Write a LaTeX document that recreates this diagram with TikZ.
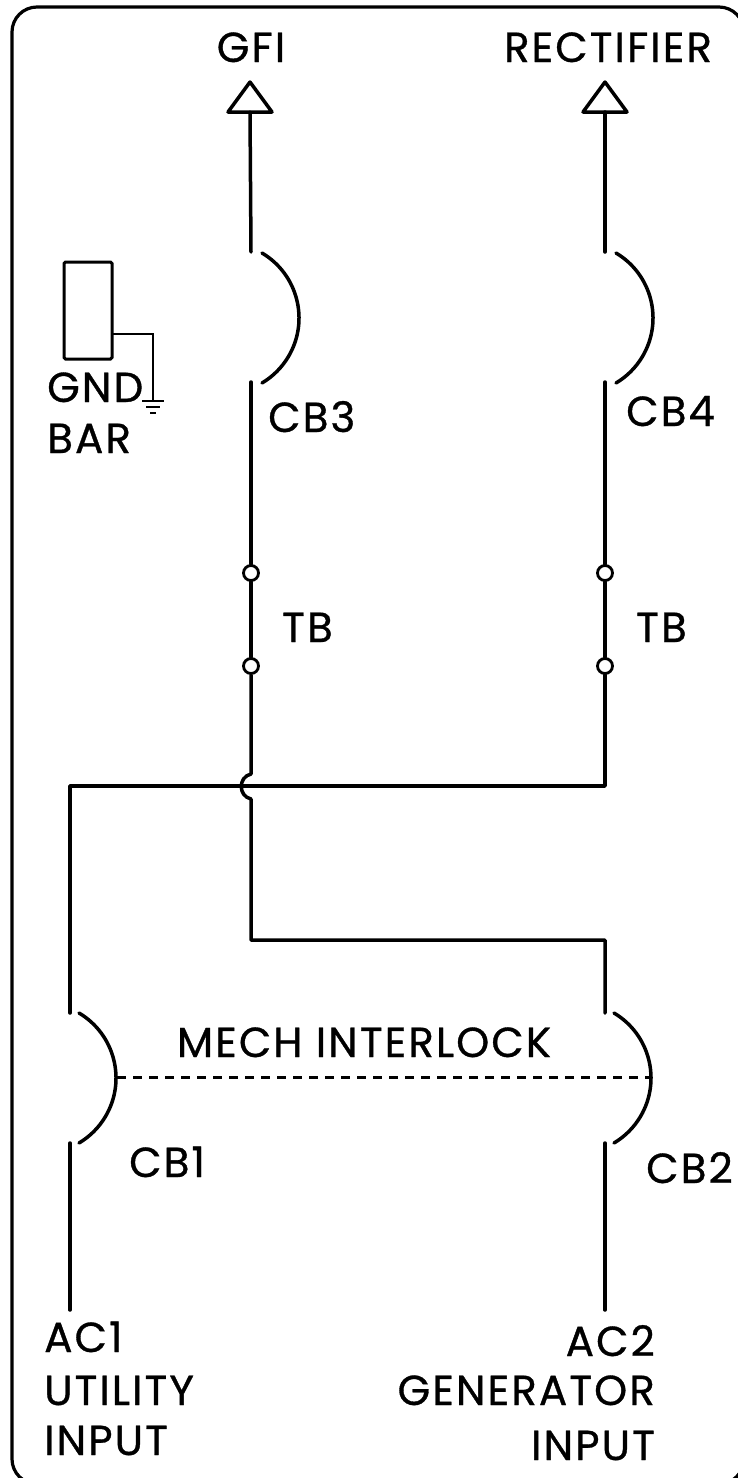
\documentclass[tikz,border=0pt]{standalone}
\usepackage{fontspec}
\setmainfont[LetterSpace=5,FakeBold=0.8]{Poppins}
\begin{document}
\begin{tikzpicture}[x=1pt,y=-1pt,
  wire/.style={line width=3.5pt,line cap=round,line join=round},
  thinwire/.style={line width=3pt},
  lbl/.style={inner sep=0pt,font=\fontsize{42}{42}\selectfont},
  term/.style={circle,draw,line width=2.8pt,fill=white,minimum size=15pt,inner sep=0pt}]
\useasboundingbox (0,0) rectangle (738,1478);
\draw[line width=3.2pt,rounded corners=25pt] (12,7) rectangle (744,1484);
% coordinates
\coordinate (gfitip) at (250,82);
\coordinate (gfibase) at (250,112);
\coordinate (rectip) at (605,82);
\coordinate (recbase) at (605,112);
% arrow heads
\draw[wire] (gfitip) -- (228,112) -- (272,112) -- cycle;
\draw[wire] (rectip) -- (583,112) -- (627,112) -- cycle;
\node[lbl,anchor=base] (gfi) at (251,62) {GFI};
\node[lbl,anchor=base] (rec) at (608,62) {RECTIFIER};
% CB3 column
\coordinate (cb3t) at (251,252);
\coordinate (cb3b) at (251,382);
\draw[wire] (gfibase) -- (cb3t);
\draw[wire] (262,253) arc[start angle=-59.3,end angle=59.3,radius=75.6];
\node[term] (tb1a) at (251,573) {};
\node[term] (tb1b) at (251,666) {};
\draw[wire] (cb3b) -- (tb1a);
\draw[wire] (tb1a) -- (tb1b);
\node[lbl,anchor=base west] (cb3) at (268,432) {CB3};
\node[lbl,anchor=base west] (tb1) at (282,642) {TB};
% CB4 column
\coordinate (cb4t) at (605,252);
\coordinate (cb4b) at (605,382);
\draw[wire] (recbase) -- (cb4t);
\draw[wire] (616,253) arc[start angle=-59.3,end angle=59.3,radius=75.6];
\node[term] (tb2a) at (605,573) {};
\node[term] (tb2b) at (605,666) {};
\draw[wire] (cb4b) -- (tb2a);
\draw[wire] (tb2a) -- (tb2b);
\node[lbl,anchor=base west] (cb4) at (626,426) {CB4};
\node[lbl,anchor=base west] (tb2) at (636,642) {TB};
% bus
\coordinate (busL) at (70,786);
\coordinate (busR) at (605,786);
\coordinate (hopT) at (251,774);
\coordinate (hopB) at (251,799);
\coordinate (jogL) at (251,940);
\coordinate (jogR) at (605,940);
\draw[wire] (tb2b) -- (busR) -- (busL) -- (70,1013);
\draw[wire] (tb1b) -- (hopT) .. controls (238,777) and (238,796) .. (hopB) -- (jogL) -- (jogR) -- (605,1013);
% CB1 / CB2
\draw[wire] (79,1013) arc[start angle=-59.3,end angle=59.3,radius=75.6];
\draw[wire] (614,1013) arc[start angle=-59.3,end angle=59.3,radius=75.6];
\coordinate (cb1m) at (117,1077);
\coordinate (cb2m) at (651,1077);
\draw[thinwire,dash pattern=on 9pt off 7pt] (cb1m) -- (cb2m);
\node[lbl,anchor=base] (mech) at (364,1057) {MECH INTERLOCK};
\coordinate (cb1b) at (70,1143);
\coordinate (cb2b) at (605,1143);
\coordinate (ac1) at (70,1310);
\coordinate (ac2) at (605,1310);
\draw[wire] (cb1b) -- (ac1);
\draw[wire] (cb2b) -- (ac2);
\node[lbl,anchor=base west] (cb1) at (129,1177) {CB1};
\node[lbl,anchor=base west] (cb2) at (646,1183) {CB2};
% input labels
\node[lbl,anchor=base west] (ac1l) at (44,1352) {AC1};
\node[lbl,anchor=base west] (ut) at (44,1405) {UTILITY};
\node[lbl,anchor=base west] (in1) at (44,1455) {INPUT};
\node[lbl,anchor=base east] (ac2l) at (655,1356) {AC2};
\node[lbl,anchor=base east] (gen) at (655,1405) {GENERATOR};
\node[lbl,anchor=base east] (in2) at (655,1460) {INPUT};
% GND bar
\draw[line width=3pt,rounded corners=1.5pt] (64,262) rectangle (112,359);
\coordinate (gndc) at (112,334);
\coordinate (gndg) at (153,401);
\draw[line width=2.8pt] (gndc) -- (153,334) -- (gndg);
\draw[line width=2.8pt] (142,401) -- (164,401);
\draw[line width=2.8pt] (146,407) -- (160,407);
\draw[line width=2.8pt] (150,413) -- (156,413);
\node[lbl,anchor=base west] (gnd) at (47,402) {GND};
\node[lbl,anchor=base west] (bar) at (47,453) {BAR};
\end{tikzpicture}
\end{document}
